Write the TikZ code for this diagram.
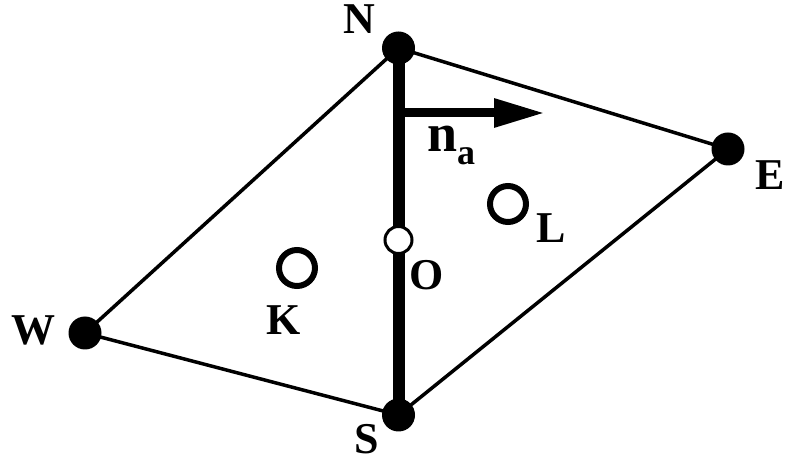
\documentclass[tikz,border=0pt]{standalone}
\usepackage{fontspec}
\setmainfont{Liberation Serif}
\usetikzlibrary{arrows.meta}
\tikzset{
  vertex/.style={circle,fill=black,inner sep=0pt,minimum size=33pt},
  cell/.style={circle,draw=black,line width=6pt,inner sep=0pt,minimum size=36pt},
  face/.style={circle,draw=black,fill=white,line width=3pt,inner sep=0pt,minimum size=27pt},
  lbl/.style={inner sep=0pt,font=\fontsize{44}{44}\selectfont\bfseries},
  edge/.style={line width=3.5pt},
  facet/.style={line width=12pt},
  normal/.style={line width=9pt,-{Triangle[length=51pt,width=27pt]}}
}
\begin{document}
\begin{tikzpicture}[x=1pt,y=-1pt]
\useasboundingbox (0,0) rectangle (788,462);
% vertices
\node[vertex] (N) at (398.5,48) {};
\node[vertex] (E) at (728,149) {};
\node[vertex] (S) at (398.5,415) {};
\node[vertex] (W) at (85,333) {};
% edges
\draw[edge] (N.center) -- (E.center) -- (S.center) -- (W.center) -- (N.center);
\draw[facet] (N.center) -- (S.center);
% normal vector
\coordinate (nbase) at (398.5,113);
\coordinate (ntip) at (545,113);
\draw[normal] (nbase) -- (ntip);
% cell centres and face centre
\node[cell] (K) at (297,268) {};
\node[cell] (L) at (508,204) {};
\node[face] (O) at (398.5,240) {};
% labels
\node[lbl] (lN) at (359,19.5) {N};
\node[lbl] (lE) at (770,175) {E};
\node[lbl] (lS) at (366.5,439) {S};
\node[lbl] (lW) at (34,330.5) {W};
\node[lbl] (lK) at (283.5,320) {K};
\node[lbl] (lL) at (551,228) {L};
\node[lbl] (lO) at (427,275.5) {O};
\node[lbl,anchor=base west,font=\fontsize{54}{54}\selectfont\bfseries] (lna) at (427,152) {n\raisebox{-13pt}{\fontsize{36}{36}\selectfont a}};
\end{tikzpicture}
\end{document}
